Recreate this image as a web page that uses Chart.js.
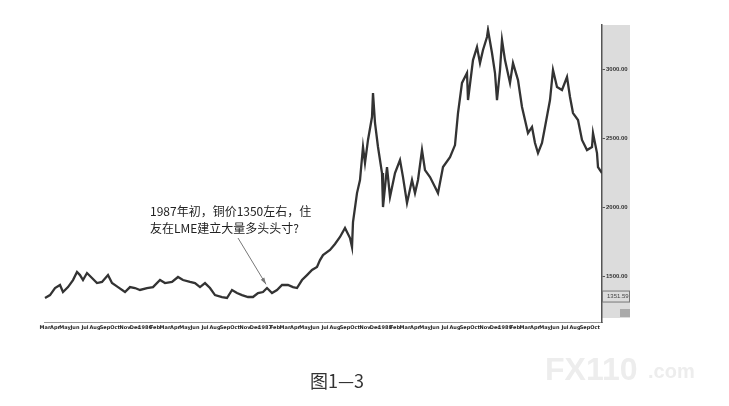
<!DOCTYPE html>
<html>
<head>
<meta charset="utf-8">
<script src="https://cdn.jsdelivr.net/npm/chart.js@4.4.0/dist/chart.umd.min.js"></script>
<style>
  html, body { margin: 0; padding: 0; background: #fff; }
  #wrap { width: 729px; height: 406px; position: relative; }
</style>
</head>
<body>
<div id="wrap"><canvas id="myChart" width="729" height="406"></canvas></div>
<script>
// months counted from Jan 1985 (0 = Jan 1985)
const months = [
  2.0, 2.5, 3.0, 3.5, 3.8, 4.3, 4.8, 5.2, 5.5, 5.8, 6.2, 6.7, 7.2, 7.7, 8.3, 8.7,
  9.3, 10.0, 10.5, 11.0, 11.5, 12.2, 12.8, 13.5, 14.0, 14.7, 15.3, 15.8, 16.5, 17.0,
  17.5, 18.0, 18.5, 19.0, 19.7, 20.2, 20.7, 21.2, 21.7, 22.3, 22.8, 23.3, 23.8, 24.2,
  24.7, 25.2, 25.7, 26.3, 26.8, 27.2, 27.7, 28.2, 28.7, 29.2, 29.5, 29.8, 30.5, 31.0,
  31.5, 32.0, 32.5, 32.7, 32.8, 33.2, 33.5, 33.8, 34.0, 34.3, 34.7, 34.8, 35.0, 35.3,
  35.7, 35.8, 36.2, 36.5, 37.0, 37.5, 37.8, 38.2, 38.7, 39.0, 39.3, 39.7, 40.0, 40.5,
  41.0, 41.3, 41.8, 42.5, 43.0, 43.3, 43.7, 44.2, 44.3, 44.8, 45.2, 45.5, 45.8, 46.2,
  46.3, 46.7, 47.0, 47.2, 47.5, 47.7, 48.0, 48.5, 48.8, 49.3, 49.7, 50.0, 50.3, 50.7,
  51.0, 51.3, 51.7, 52.0, 52.5, 52.8, 53.2, 53.7, 54.2, 54.5, 54.8, 55.3, 55.7, 56.2,
  56.7, 56.8, 57.2, 57.3, 57.7
];
const prices = [
  1341, 1362, 1413, 1435, 1384, 1420, 1471, 1529, 1507, 1471, 1522, 1486, 1449, 1457, 1507, 1449,
  1420, 1384, 1420, 1413, 1399, 1413, 1420, 1471, 1449, 1457, 1493, 1471, 1457, 1449,
  1420, 1449, 1413, 1362, 1348, 1341, 1399, 1377, 1362, 1348, 1348, 1377, 1384, 1413,
  1377, 1399, 1435, 1435, 1420, 1413, 1471, 1507, 1544, 1565, 1616, 1652, 1689, 1732,
  1783, 1848, 1775, 1710, 1891, 2101, 2196, 2435, 2319, 2486, 2652, 2826, 2609, 2435,
  2246, 2000, 2290, 2073, 2246, 2341, 2217, 2029, 2196, 2101, 2196, 2413, 2268, 2217,
  2145, 2101, 2290, 2362, 2449, 2681, 2899, 2971, 2775, 3065, 3159, 3043, 3138, 3232,
  3283, 3116, 2971, 2775, 2993, 3210, 3065, 2899, 3043, 2920, 2725, 2630, 2536, 2580,
  2464, 2391, 2464, 2580, 2775, 2993, 2870, 2848, 2942, 2797, 2681, 2630, 2486, 2413,
  2435, 2536, 2391, 2290, 2246
];
const priceTicks = [1500, 2000, 2500, 3000];
const lastPrice = 1351.59;
const monthNames = ["Jan", "Feb", "Mar", "Apr", "May", "Jun", "Jul", "Aug", "Sep", "Oct", "Nov", "Dec"];
const noteLines = ["1987年初，铜价1350左右，住", "友在LME建立大量多头头寸?"];
const caption = "图1—3";

const points = months.map((m, i) => ({ x: m, y: prices[i] }));

const extras = {
  id: "extras",
  beforeDraw(chart) {
    const ctx = chart.ctx;
    const a = chart.chartArea;
    ctx.save();
    ctx.fillStyle = "#dcdcdc";
    ctx.fillRect(a.right, a.top, 28, a.bottom - a.top - 4);
    ctx.restore();
  },
  afterDraw(chart) {
    const ctx = chart.ctx;
    const a = chart.chartArea;
    const xs = chart.scales.x, ys = chart.scales.y;
    ctx.save();

    // last price box on the axis
    const yp = ys.getPixelForValue(lastPrice);
    ctx.strokeStyle = "#777";
    ctx.lineWidth = 1;
    ctx.strokeRect(a.right + 0.5, yp - 5.5, 27, 11);
    ctx.fillStyle = "#444";
    ctx.font = "6px 'Liberation Sans'";
    ctx.textBaseline = "middle";
    ctx.fillText(lastPrice.toFixed(2), a.right + 5, yp);
    ctx.fillStyle = "#aaa";
    ctx.fillRect(a.right + 18, a.bottom - 13, 10, 8);

    // annotation text
    ctx.fillStyle = "#222";
    ctx.font = "12px 'Noto Sans CJK SC'";
    ctx.textBaseline = "middle";
    ctx.fillText(noteLines[0], 150, 211);
    ctx.fillText(noteLines[1], 150, 228);

    // arrow to early 1987 price
    const tx = xs.getPixelForValue(24.1), ty = ys.getPixelForValue(1440);
    const sx = 238, sy = 238;
    ctx.strokeStyle = "#777";
    ctx.beginPath();
    ctx.moveTo(sx, sy);
    ctx.lineTo(tx, ty);
    ctx.stroke();
    const ang = Math.atan2(ty - sy, tx - sx);
    ctx.fillStyle = "#777";
    ctx.beginPath();
    ctx.moveTo(tx, ty);
    ctx.lineTo(tx - 7 * Math.cos(ang - 0.3), ty - 7 * Math.sin(ang - 0.3));
    ctx.lineTo(tx - 7 * Math.cos(ang + 0.3), ty - 7 * Math.sin(ang + 0.3));
    ctx.closePath();
    ctx.fill();

    // watermark
    ctx.fillStyle = "#ededed";
    ctx.textBaseline = "alphabetic";
    ctx.font = "bold 32px 'Liberation Sans'";
    ctx.fillText("FX110", 545, 380);
    ctx.font = "bold 20px 'Liberation Sans'";
    ctx.fillText(".com", 648, 378);

    // caption
    ctx.fillStyle = "#333";
    ctx.font = "18px 'Noto Sans CJK SC'";
    ctx.textAlign = "center";
    ctx.textBaseline = "middle";
    ctx.fillText(caption, 337, 381);
    ctx.restore();
  }
};

const ctx = document.getElementById("myChart").getContext("2d");
const myChart = new Chart(ctx, {
  type: "line",
  data: {
    datasets: [{
      data: points,
      borderColor: "#333",
      borderWidth: 2.3,
      pointRadius: 0,
      tension: 0
    }]
  },
  options: {
    responsive: false,
    animation: false,
    layout: { padding: { left: 44, top: 25, right: 99, bottom: 74 } },
    plugins: { legend: { display: false }, tooltip: { enabled: false } },
    scales: {
      x: {
        type: "linear",
        min: 1.9,
        max: 57.7,
        afterBuildTicks(scale) {
          const t = [];
          for (let m = 2; m <= 57; m++) t.push({ value: m });
          scale.ticks = t;
        },
        afterFit(scale) { scale.height = 10; },
        grid: { display: false, drawTicks: false },
        border: { display: true, color: "#999" },
        ticks: {
          autoSkip: false,
          maxRotation: 0,
          padding: 3,
          color: "#222",
          font: { size: 5, family: "DejaVu Sans", weight: "bold" },
          callback: (v) => v % 12 === 0 ? String(1985 + v / 12) : monthNames[v % 12]
        }
      },
      y: {
        position: "right",
        min: 1167,
        max: 3319,
        afterBuildTicks(scale) { scale.ticks = priceTicks.map(v => ({ value: v })); },
        afterFit(scale) { scale.width = 28; },
        grid: { drawOnChartArea: false, tickLength: 3, color: "#555" },
        border: { display: true, color: "#555", width: 1.5 },
        ticks: {
          padding: 1,
          color: "#333",
          font: { size: 6, family: "Liberation Sans", weight: "bold" },
          callback: (v) => v.toFixed(2)
        }
      }
    }
  },
  plugins: [extras]
});
</script>
</body>
</html>
